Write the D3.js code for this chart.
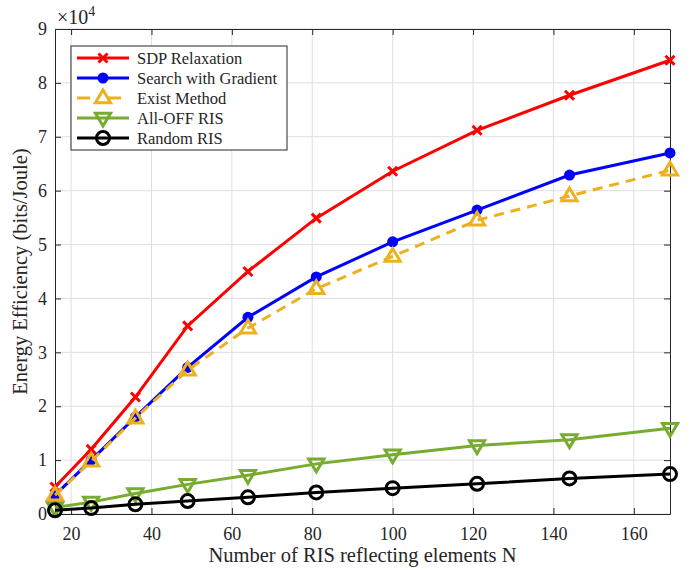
<!DOCTYPE html>
<html>
<head>
<meta charset="utf-8">
<script src="https://cdn.jsdelivr.net/npm/d3@7"></script>
<style>
  body { margin: 0; background: #fff; }
  text { font-family: "Liberation Serif", "Times New Roman", serif; fill: #262626; }
</style>
</head>
<body>
<div id="chart"></div>
<script>
// number of reflecting elements
var N = [16, 25, 36, 49, 64, 81, 100, 121, 144, 169];

// energy efficiency, in units of 1e4 bits/Joule
var sdpRelax   = [0.50, 1.20, 2.17, 3.49, 4.50, 5.49, 6.36, 7.12, 7.77, 8.42];
var searchGrad = [0.35, 1.00, 1.80, 2.72, 3.65, 4.40, 5.05, 5.64, 6.29, 6.70];
var existMeth  = [0.35, 0.98, 1.78, 2.67, 3.45, 4.18, 4.78, 5.45, 5.90, 6.38];
var allOff     = [0.12, 0.22, 0.38, 0.55, 0.72, 0.93, 1.10, 1.27, 1.38, 1.59];
var randomRis  = [0.07, 0.11, 0.18, 0.24, 0.31, 0.40, 0.48, 0.56, 0.66, 0.74];

var xTicks = [20, 40, 60, 80, 100, 120, 140, 160];
var yTicks = [0, 1, 2, 3, 4, 5, 6, 7, 8, 9];

var series = [
  {name: "SDP Relaxation",       values: sdpRelax,   color: "#ff0000", marker: "x",    dash: null},
  {name: "Search with Gradient", values: searchGrad, color: "#0000ff", marker: "dot",  dash: null},
  {name: "Exist Method",         values: existMeth,  color: "#edb120", marker: "tri",  dash: "10,7"},
  {name: "All-OFF RIS",          values: allOff,     color: "#77ac30", marker: "vtri", dash: null},
  {name: "Random RIS",           values: randomRis,  color: "#000000", marker: "circ", dash: null}
];

var W = 699, H = 572;
var margin = {left: 55, right: 29, top: 29, bottom: 58};
var serif = "'Liberation Serif', 'Times New Roman', serif";

var svg = d3.select("#chart").append("svg").attr("width", W).attr("height", H);

var x = d3.scaleLinear().domain([16, 169]).range([margin.left, W - margin.right]);
var y = d3.scaleLinear().domain([0, 9]).range([H - margin.bottom, margin.top]);

var x0 = x.range()[0], x1 = x.range()[1], y0 = y.range()[0], y1 = y.range()[1];

// grid
var grid = svg.append("g").attr("stroke", "#dfdfdf").attr("stroke-width", 1);
xTicks.forEach(function(t){
  grid.append("line").attr("x1", x(t)).attr("x2", x(t)).attr("y1", y0).attr("y2", y1);
});
yTicks.forEach(function(t){
  grid.append("line").attr("x1", x0).attr("x2", x1).attr("y1", y(t)).attr("y2", y(t));
});

// axes (ticks pointing inward, box on)
var axisColor = "#262626";
var axBottom = svg.append("g").attr("transform", "translate(0," + y0 + ")")
  .call(d3.axisBottom(x).tickValues(xTicks).tickSizeInner(-6).tickSizeOuter(0).tickPadding(13));
var axTop = svg.append("g").attr("transform", "translate(0," + y1 + ")")
  .call(d3.axisTop(x).tickValues(xTicks).tickSizeInner(-6).tickSizeOuter(0).tickFormat(""));
var axLeft = svg.append("g").attr("transform", "translate(" + x0 + ",0)")
  .call(d3.axisLeft(y).tickValues(yTicks).tickSizeInner(-6).tickSizeOuter(0).tickPadding(8));
var axRight = svg.append("g").attr("transform", "translate(" + x1 + ",0)")
  .call(d3.axisRight(y).tickValues(yTicks).tickSizeInner(-6).tickSizeOuter(0).tickFormat(""));

[axBottom, axTop, axLeft, axRight].forEach(function(a){
  a.attr("font-family", serif).attr("font-size", 18);
  a.select(".domain").attr("stroke", axisColor).attr("stroke-width", 1);
  a.selectAll(".tick line").attr("stroke", axisColor);
  a.selectAll(".tick text").attr("fill", axisColor);
});

// exponent label
var expo = svg.append("text").attr("x", x0 + 2).attr("y", 24)
  .attr("font-family", serif).attr("font-size", 20);
expo.append("tspan").text("\u00d710");
expo.append("tspan").attr("dy", -8).attr("font-size", 14).text("4");

// axis titles
svg.append("text").attr("x", (x0 + x1) / 2).attr("y", 562).attr("text-anchor", "middle")
  .attr("font-family", serif).attr("font-size", 20.5).text("Number of RIS reflecting elements N");
svg.append("text").attr("transform", "translate(27," + ((y0 + y1) / 2) + ") rotate(-90)")
  .attr("text-anchor", "middle").attr("font-family", serif).attr("font-size", 20.5)
  .text("Energy Efficiency (bits/Joule)");

function drawMarker(g, kind, cx, cy, color){
  if (kind === "x") {
    var s = 4.5;
    g.append("path").attr("d", "M" + (cx - s) + "," + (cy - s) + "L" + (cx + s) + "," + (cy + s) +
        "M" + (cx - s) + "," + (cy + s) + "L" + (cx + s) + "," + (cy - s))
      .attr("stroke", color).attr("stroke-width", 3).attr("fill", "none");
  } else if (kind === "dot") {
    g.append("circle").attr("cx", cx).attr("cy", cy).attr("r", 5.5).attr("fill", color);
  } else if (kind === "circ") {
    g.append("circle").attr("cx", cx).attr("cy", cy).attr("r", 6.5).attr("fill", "none")
      .attr("stroke", color).attr("stroke-width", 3);
  } else if (kind === "tri") {
    var r = 8;
    g.append("path").attr("d", "M" + cx + "," + (cy - r) + "L" + (cx + r * 0.95) + "," + (cy + r * 0.6) +
        "L" + (cx - r * 0.95) + "," + (cy + r * 0.6) + "Z")
      .attr("stroke", color).attr("stroke-width", 3).attr("fill", "none");
  } else if (kind === "vtri") {
    var r2 = 8;
    g.append("path").attr("d", "M" + cx + "," + (cy + r2) + "L" + (cx + r2 * 0.95) + "," + (cy - r2 * 0.6) +
        "L" + (cx - r2 * 0.95) + "," + (cy - r2 * 0.6) + "Z")
      .attr("stroke", color).attr("stroke-width", 3).attr("fill", "none");
  }
}

var line = d3.line().x(function(d){ return x(d[0]); }).y(function(d){ return y(d[1]); });

// plot in legend order, later series on top
series.forEach(function(s){
  var pts = N.map(function(n, k){ return [n, s.values[k]]; });
  var g = svg.append("g");
  g.append("path").attr("d", line(pts)).attr("fill", "none").attr("stroke", s.color)
    .attr("stroke-width", 3).attr("stroke-dasharray", s.dash);
  pts.forEach(function(p){ drawMarker(g, s.marker, x(p[0]), y(p[1]), s.color); });
});

// legend
var lg = svg.append("g");
var lx = 71, ly = 46, lw = 216, lh = 104;
lg.append("rect").attr("x", lx).attr("y", ly).attr("width", lw).attr("height", lh)
  .attr("fill", "#fff").attr("stroke", axisColor).attr("stroke-width", 1);
series.forEach(function(s, i){
  var yy = ly + 12 + i * 20;
  lg.append("line").attr("x1", lx + 6).attr("x2", lx + 58).attr("y1", yy).attr("y2", yy)
    .attr("stroke", s.color).attr("stroke-width", 3).attr("stroke-dasharray", s.dash ? "13,18" : null);
  drawMarker(lg, s.marker, lx + 32, yy, s.color);
  lg.append("text").attr("x", lx + 66).attr("y", yy).attr("dy", "0.35em")
    .attr("font-family", serif).attr("font-size", 16.5).text(s.name);
});
</script>
</body>
</html>
